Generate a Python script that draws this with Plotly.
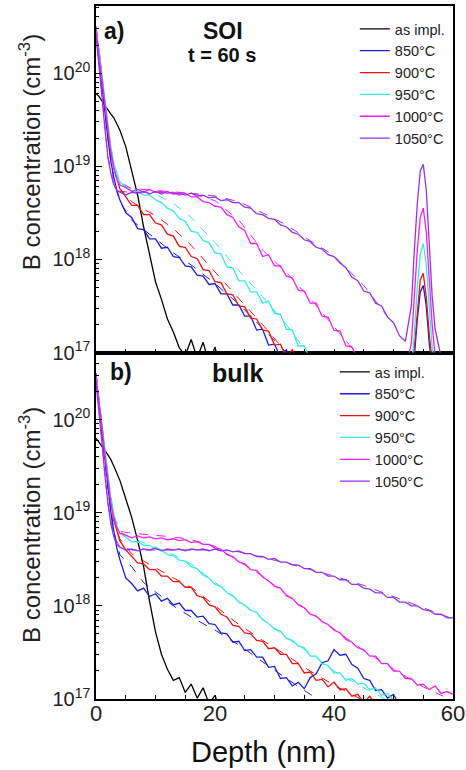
import plotly.graph_objects as go

# ---------------- data (log10 of B concentration, cm^-3) ----------------
DEPTH = [0, 0.5, 1, 1.5, 2, 2.5, 3, 3.5, 4, 5, 6, 7, 8, 9, 10, 11, 12, 13, 14, 15,
         16, 17, 18, 19, 20, 21, 22, 23, 24, 25, 26, 27, 28, 29, 30, 31, 32, 33, 34,
         35, 36, 37, 38, 39, 40, 41, 42, 43, 44, 45, 46, 47, 48, 49, 50, 51, 52, 53,
         54, 55, 56, 57, 58, 59, 60]

NAMES = ["as impl.", "850°C", "900°C", "950°C", "1000°C", "1050°C"]
COLORS = ["#000000", "#1E1EDC", "#F01010", "#30EAEA", "#F41EF4", "#9632EA"]

# SOI, t = 60 s
SOI_IMPL = [19.78, 19.75, 19.70, 19.65, 19.61, 19.56, 19.52, 19.46, 19.39,
            19.21, 18.95, 18.69, 18.35, 18.06, 17.76, 17.57, 17.36, 17.22, 17.05,
            16.97, 17.14, 16.94, 17.11, 16.88, 17.06, 16.80, 16.70]
SOI_850 = [20.45, 20.18, 19.90, 19.58, 19.30, 19.05, 18.88, 18.74, 18.64,
           18.50, 18.45, 18.33, 18.32, 18.22, 18.22, 18.12, 18.13, 18.03, 18.02,
           17.93, 17.92, 17.83, 17.82, 17.73, 17.74, 17.63, 17.63, 17.51, 17.51,
           17.39, 17.39, 17.24, 17.25, 17.08, 17.09, 16.95, 17.03, 16.88, 16.85, 16.70]
SOI_900 = [20.45, 20.24, 19.95, 19.66, 19.38, 19.16, 18.98, 18.87, 18.76,
           18.67, 18.58, 18.58, 18.48, 18.48, 18.39, 18.37, 18.27, 18.25, 18.14,
           18.13, 18.03, 18.01, 17.89, 17.88, 17.76, 17.75, 17.63, 17.62, 17.50,
           17.49, 17.37, 17.36, 17.24, 17.23, 17.08, 17.09, 16.95, 17.03, 16.88, 16.80]
SOI_950 = [20.45, 20.25, 19.98, 19.70, 19.43, 19.20, 19.03, 18.90, 18.83,
           18.78, 18.73, 18.73, 18.69, 18.69, 18.64, 18.61, 18.55, 18.52, 18.44,
           18.41, 18.30, 18.29, 18.20, 18.18, 18.07, 18.06, 17.92, 17.91, 17.77,
           17.77, 17.65, 17.65, 17.53, 17.55, 17.42, 17.41, 17.25, 17.24, 17.07,
           17.07, 16.93, 16.85]
SOI_1000 = [20.45, 20.20, 19.95, 19.66, 19.40, 19.15, 18.98, 18.86, 18.80,
            18.77, 18.73, 18.75, 18.72, 18.75, 18.72, 18.73, 18.71, 18.72, 18.69,
            18.71, 18.67, 18.67, 18.62, 18.61, 18.57, 18.56, 18.48, 18.45, 18.35,
            18.31, 18.17, 18.17, 18.03, 18.05, 17.93, 17.93, 17.82, 17.80, 17.67,
            17.66, 17.53, 17.53, 17.39, 17.38, 17.24, 17.23, 17.07, 17.06, 16.93, 16.85]
SOI_1050 = [20.40, 20.10, 19.75, 19.40, 19.10, 18.92, 18.80, 18.74, 18.72,
            18.69, 18.72, 18.71, 18.73, 18.70, 18.73, 18.70, 18.73, 18.70, 18.71,
            18.69, 18.71, 18.68, 18.69, 18.66, 18.67, 18.63, 18.64, 18.61, 18.61,
            18.56, 18.55, 18.49, 18.48, 18.44, 18.43, 18.37, 18.35, 18.29, 18.27,
            18.21, 18.19, 18.13, 18.11, 18.05, 18.03, 17.96, 17.91, 17.81, 17.77,
            17.66, 17.64, 17.53, 17.50, 17.38, 17.32, 17.18, 17.12]

# B pile-up at the buried oxide interface (SOI only)
PEAK_DEPTH = [52, 53, 53.5, 54, 54.5, 55, 55.5, 56, 56.5, 57, 58]
PEAK_850 = [16.70, 16.80, 16.95, 17.35, 17.65, 17.72, 17.50, 17.10, 16.85, 16.75, 16.70]
PEAK_900 = [16.70, 16.80, 17.05, 17.45, 17.78, 17.85, 17.60, 17.20, 16.90, 16.80, 16.70]
PEAK_950 = [16.70, 16.85, 17.20, 17.70, 18.05, 18.17, 17.95, 17.50, 17.05, 16.85, 16.70]
PEAK_1000 = [16.80, 17.10, 17.60, 18.10, 18.45, 18.55, 18.30, 17.80, 17.30, 16.95, 16.80]
PEAK_1050 = [17.12, 17.50, 18.10, 18.60, 18.95, 19.02, 18.75, 18.10, 17.60, 17.25, 16.95]

# bulk, t = 60 s
BULK_IMPL = [19.80, 19.76, 19.72, 19.67, 19.62, 19.57, 19.50, 19.42, 19.35,
             19.15, 18.95, 18.70, 18.42, 18.05, 17.72, 17.48, 17.32, 17.20, 17.23,
             17.07, 17.16, 17.01, 17.12, 16.95, 17.04, 16.85, 16.70]
BULK_850 = [20.45, 20.15, 19.85, 19.55, 19.25, 19.00, 18.80, 18.62, 18.50,
            18.30, 18.24, 18.16, 18.19, 18.10, 18.13, 18.05, 18.08, 18.01, 18.03,
            17.95, 17.95, 17.88, 17.89, 17.81, 17.80, 17.71, 17.70, 17.61, 17.62,
            17.52, 17.53, 17.45, 17.45, 17.34, 17.35, 17.22, 17.23, 17.14, 17.18,
            17.11, 17.23, 17.27, 17.39, 17.41, 17.53, 17.47, 17.48, 17.37, 17.33,
            17.22, 17.20, 17.09, 17.10, 17.01, 17.05, 16.93, 16.85]
BULK_900 = [20.45, 20.20, 19.92, 19.62, 19.35, 19.12, 18.92, 18.80, 18.70,
            18.60, 18.53, 18.46, 18.45, 18.39, 18.39, 18.32, 18.32, 18.26, 18.26,
            18.20, 18.20, 18.11, 18.09, 18.01, 17.99, 17.91, 17.88, 17.79, 17.78,
            17.71, 17.70, 17.63, 17.62, 17.54, 17.55, 17.48, 17.48, 17.38, 17.38,
            17.28, 17.29, 17.20, 17.21, 17.13, 17.18, 17.10, 17.11, 17.03, 17.05,
            16.96, 17.03, 16.94, 16.88]
BULK_950 = [20.45, 20.22, 19.95, 19.68, 19.40, 19.15, 18.98, 18.86, 18.78,
            18.74, 18.69, 18.69, 18.65, 18.65, 18.61, 18.60, 18.55, 18.54, 18.49,
            18.48, 18.42, 18.40, 18.33, 18.30, 18.23, 18.21, 18.14, 18.11, 18.04,
            18.01, 17.95, 17.93, 17.85, 17.81, 17.75, 17.73, 17.65, 17.63, 17.57,
            17.55, 17.46, 17.46, 17.38, 17.36, 17.28, 17.28, 17.20, 17.22, 17.16,
            17.17, 17.10, 17.12, 17.04, 17.06, 16.98, 16.99, 16.92]
BULK_1000 = [20.45, 20.20, 19.92, 19.62, 19.35, 19.10, 18.94, 18.84, 18.78,
             18.76, 18.73, 18.75, 18.73, 18.74, 18.72, 18.73, 18.71, 18.72, 18.70,
             18.71, 18.68, 18.69, 18.66, 18.66, 18.62, 18.61, 18.55, 18.53, 18.47,
             18.45, 18.39, 18.38, 18.31, 18.27, 18.21, 18.19, 18.11, 18.08, 18.01,
             17.98, 17.91, 17.89, 17.83, 17.80, 17.74, 17.71, 17.64, 17.61, 17.55,
             17.53, 17.46, 17.46, 17.38, 17.38, 17.30, 17.30, 17.22, 17.22, 17.15,
             17.16, 17.10, 17.14, 17.06, 17.08, 17.05]
BULK_1050 = [20.40, 20.10, 19.75, 19.40, 19.10, 18.88, 18.74, 18.66, 18.63,
             18.60, 18.61, 18.59, 18.61, 18.60, 18.62, 18.59, 18.61, 18.60, 18.61,
             18.59, 18.61, 18.60, 18.61, 18.59, 18.61, 18.59, 18.60, 18.58, 18.59,
             18.56, 18.56, 18.53, 18.53, 18.50, 18.51, 18.47, 18.47, 18.44, 18.44,
             18.40, 18.40, 18.36, 18.36, 18.32, 18.32, 18.28, 18.28, 18.23, 18.23,
             18.19, 18.18, 18.14, 18.14, 18.09, 18.09, 18.04, 18.04, 18.00, 18.00,
             17.96, 17.95, 17.91, 17.91, 17.87, 17.87]

# simulated profiles (dashed)
FIT_DEPTH = [0, 1, 2, 3, 4, 6, 8, 10, 13, 16, 20, 24, 28, 32, 36, 40, 45, 50, 55, 60]
SOI_FIT_850 = [20.50, 19.95, 19.30, 18.85, 18.62, 18.42, 18.32, 18.22, 18.07, 17.94, 17.74, 17.52, 17.26, 17.00, 16.70]
SOI_FIT_900 = [20.50, 19.97, 19.38, 18.98, 18.76, 18.62, 18.54, 18.47, 18.33, 18.15, 17.86, 17.58, 17.30, 17.00, 16.70]
SOI_FIT_950 = [20.50, 19.98, 19.42, 19.02, 18.84, 18.76, 18.73, 18.70, 18.60, 18.45, 18.18, 17.88, 17.60, 17.30, 16.95, 16.60]
SOI_FIT_1000 = [20.50, 19.95, 19.40, 18.98, 18.82, 18.76, 18.75, 18.74, 18.73, 18.71, 18.63, 18.42, 18.10, 17.86, 17.58, 17.28, 16.90]
SOI_FIT_1050 = [20.45, 19.75, 19.10, 18.80, 18.73, 18.72, 18.72, 18.72, 18.71, 18.71, 18.68, 18.62, 18.50, 18.37, 18.20, 18.04, 17.72, 17.30]
BULK_FIT_850 = [20.50, 19.85, 19.25, 18.80, 18.55, 18.42, 18.25, 18.15, 18.00, 17.88, 17.74, 17.58, 17.40, 17.22, 17.05, 16.90]
BULK_FIT_900 = [20.50, 19.92, 19.35, 18.92, 18.72, 18.56, 18.48, 18.41, 18.30, 18.20, 18.00, 17.80, 17.63, 17.47, 17.30, 17.15, 16.98, 16.80]
BULK_FIT_950 = [20.50, 19.95, 19.40, 18.98, 18.80, 18.72, 18.68, 18.63, 18.55, 18.45, 18.25, 18.05, 17.86, 17.66, 17.49, 17.30, 17.12, 16.95]
BULK_FIT_1000 = [20.50, 19.92, 19.35, 18.95, 18.80, 18.78, 18.77, 18.76, 18.74, 18.71, 18.64, 18.48, 18.32, 18.12, 17.93, 17.75, 17.52, 17.32, 17.13, 16.98]
BULK_FIT_1050 = [20.45, 19.75, 19.10, 18.74, 18.64, 18.60, 18.60, 18.60, 18.60, 18.60, 18.60, 18.58, 18.52, 18.46, 18.39, 18.32, 18.22, 18.10, 17.98, 17.86]

Y_TICKS = [17, 18, 19, 20]
X_TICKS = [0, 20, 40, 60]
X_MINOR = [5, 10, 15, 25, 30, 35, 45, 50, 55]

FONT = "Liberation Sans, Arial, sans-serif"

# ---------------- figure ----------------
fig = go.Figure()


def pw(vals):
    return [None if v is None else 10.0 ** v for v in vals]


soi_main = [SOI_IMPL, SOI_850, SOI_900, SOI_950, SOI_1000, SOI_1050]
soi_peak = [None, PEAK_850, PEAK_900, PEAK_950, PEAK_1000, PEAK_1050]
bulk_main = [BULK_IMPL, BULK_850, BULK_900, BULK_950, BULK_1000, BULK_1050]
soi_fit = [None, SOI_FIT_850, SOI_FIT_900, SOI_FIT_950, SOI_FIT_1000, SOI_FIT_1050]
bulk_fit = [None, BULK_FIT_850, BULK_FIT_900, BULK_FIT_950, BULK_FIT_1000, BULK_FIT_1050]

# dashed simulations first (underneath)
for i in range(6):
    if soi_fit[i] is not None:
        f = soi_fit[i]
        fig.add_trace(go.Scatter(x=FIT_DEPTH[:len(f)], y=pw(f), mode="lines",
                                 line=dict(color=COLORS[i], width=1, dash="dash"),
                                 showlegend=False, hoverinfo="skip",
                                 xaxis="x2", yaxis="y2"))
        f = bulk_fit[i]
        fig.add_trace(go.Scatter(x=FIT_DEPTH[:len(f)], y=pw(f), mode="lines",
                                 line=dict(color=COLORS[i], width=1, dash="dash"),
                                 showlegend=False, hoverinfo="skip",
                                 xaxis="x", yaxis="y"))

# measured SIMS profiles
for i in range(6):
    v = soi_main[i]
    xs = DEPTH[:len(v)]
    ys = list(v)
    if soi_peak[i] is not None:
        xs = xs + [None] + PEAK_DEPTH
        ys = ys + [None] + soi_peak[i]
    fig.add_trace(go.Scatter(x=xs, y=pw(ys), mode="lines", name=NAMES[i],
                             line=dict(color=COLORS[i], width=1.3),
                             legend="legend", xaxis="x2", yaxis="y2"))
for i in range(6):
    v = bulk_main[i]
    fig.add_trace(go.Scatter(x=DEPTH[:len(v)], y=pw(v), mode="lines", name=NAMES[i],
                             line=dict(color=COLORS[i], width=1.3),
                             legend="legend2", xaxis="x", yaxis="y"))

minor_vals = [m * 10.0 ** e for e in range(17, 21) for m in range(2, 10)]

yax = dict(type="log", range=[17, 20.72], tickvals=[10.0 ** t for t in Y_TICKS],
           ticktext=["10<sup>%d</sup>" % t for t in Y_TICKS],
           ticks="inside", ticklen=6, tickwidth=1, tickcolor="#000",
           minor=dict(tickvals=minor_vals, ticks="inside", ticklen=3, tickcolor="#000"),
           showline=True, linecolor="#000", linewidth=1.5, mirror=True,
           showgrid=False, zeroline=False, automargin=False,
           tickfont=dict(family=FONT, size=20, color="#222"))
xax = dict(range=[0, 60], tickvals=X_TICKS,
           ticks="inside", ticklen=4, tickwidth=1, tickcolor="#000",
           minor=dict(tickvals=X_MINOR, ticks="inside", ticklen=4, tickcolor="#000"),
           showline=True, linecolor="#000", linewidth=1.5, mirror=True,
           showgrid=False, zeroline=False, automargin=False,
           tickfont=dict(family=FONT, size=22, color="#222"))

ytitle = "B concentration (cm<sup>-3</sup>)"

fig.update_layout(
    width=466, height=770,
    margin=dict(l=96, r=13, t=6, b=71),
    paper_bgcolor="white", plot_bgcolor="white",
    xaxis=dict(xax, anchor="y", domain=[0, 1], ticklabelstandoff=-6),
    xaxis2=dict(xax, anchor="y2", matches="x", showticklabels=False),
    yaxis=dict(yax, domain=[0, 0.5], anchor="x"),
    yaxis2=dict(yax, domain=[0.5, 1], anchor="x2"),
    legend=dict(x=0.725, y=0.99, xanchor="left", yanchor="top",
                bgcolor="rgba(0,0,0,0)", font=dict(family=FONT, size=14.5, color="#222"),
                tracegroupgap=0, itemwidth=30),
    legend2=dict(x=0.669, y=0.495, xanchor="left", yanchor="top",
                 bgcolor="rgba(0,0,0,0)", font=dict(family=FONT, size=14.5, color="#222"),
                 tracegroupgap=0, itemwidth=30),
    annotations=[
        dict(text=ytitle, x=-0.185, y=0.789, xref="paper", yref="paper",
             xanchor="center", yanchor="middle", textangle=-90, showarrow=False,
             font=dict(family=FONT, size=24, color="#222")),
        dict(text=ytitle, x=-0.185, y=0.251, xref="paper", yref="paper",
             xanchor="center", yanchor="middle", textangle=-90, showarrow=False,
             font=dict(family=FONT, size=24, color="#222")),
        dict(text="Depth (nm)", x=0.468, y=-0.0765, xref="paper", yref="paper",
             xanchor="center", yanchor="middle", showarrow=False,
             font=dict(family=FONT, size=29, color="#111")),
        dict(text="<b>a)</b>", x=0.016, y=0.986, xref="paper", yref="paper",
             xanchor="left", yanchor="top", showarrow=False,
             font=dict(family=FONT, size=23, color="#111")),
        dict(text="<b>SOI</b>", x=0.355, y=0.986, xref="paper", yref="paper",
             xanchor="center", yanchor="top", showarrow=False,
             font=dict(family=FONT, size=23, color="#111")),
        dict(text="<b>t = 60 s</b>", x=0.354, y=0.948, xref="paper", yref="paper",
             xanchor="center", yanchor="top", showarrow=False,
             font=dict(family=FONT, size=20, color="#111")),
        dict(text="<b>b)</b>", x=0.035, y=0.494, xref="paper", yref="paper",
             xanchor="left", yanchor="top", showarrow=False,
             font=dict(family=FONT, size=23, color="#111")),
        dict(text="<b>bulk</b>", x=0.396, y=0.494, xref="paper", yref="paper",
             xanchor="center", yanchor="top", showarrow=False,
             font=dict(family=FONT, size=25, color="#111")),
    ],
)

fig.write_html("out.html", config={"displayModeBar": False},
               post_script="document.body.style.margin='0';")
